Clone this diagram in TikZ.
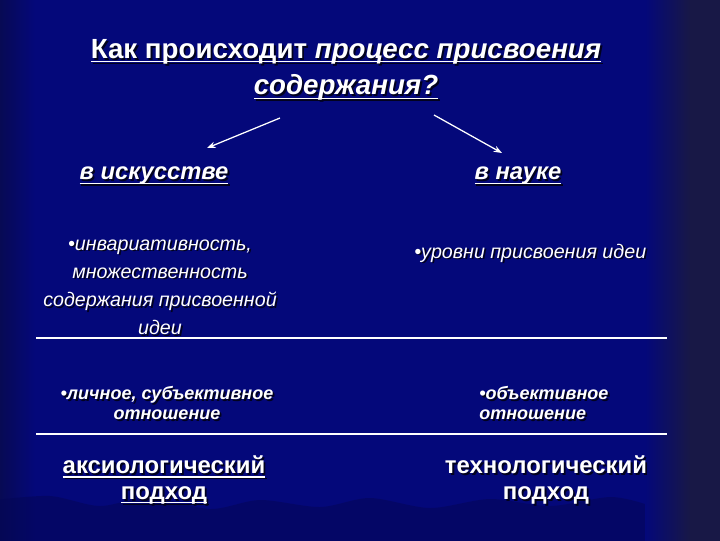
\documentclass[tikz,border=0pt]{standalone}
\usepackage{fontspec}
\setmainfont{Liberation Sans}
\usetikzlibrary{arrows.meta}

\definecolor{curtbase}{RGB}{4,8,122}
\definecolor{curtlight}{RGB}{14,34,200}
\definecolor{curtmid}{RGB}{8,20,162}
\definecolor{curtedge}{RGB}{8,10,80}
\definecolor{sidepanel}{RGB}{24,24,70}
\definecolor{hemcol}{RGB}{4,6,86}
\definecolor{shadowcol}{RGB}{2,2,30}

\newcommand\titlefont{\fontsize{19.7}{26}\selectfont\bfseries}
\newcommand\headfont{\fontsize{16.9}{20}\selectfont\bfseries\itshape}
\newcommand\infofont{\fontsize{14}{20}\selectfont\itshape}
\newcommand\relfont{\fontsize{12.8}{14.2}\selectfont\bfseries\itshape}
\newcommand\appfont{\fontsize{17}{18.4}\selectfont\bfseries}

% underline at a fixed depth
\newsavebox\ulbox
\newcommand\uln[1]{\sbox\ulbox{#1}\rlap{\rule[-2.8pt]{\wd\ulbox}{0.9pt}}\usebox\ulbox}

% node with a dark shadow under the text
\newcommand\shnode[4]{%
  \node[#3, shadowtext, xshift=1.3pt, yshift=-1.3pt] (#1-sh) at #2 {#4};
  \node[#3] (#1) at #2 {#4};}

\begin{document}
\begin{tikzpicture}[x=0.025cm, y=-0.025cm,
    txt/.style={text=white, inner sep=0pt, align=center},
    shadowtext/.style={text=shadowcol},
    arr/.style={draw=white, line width=0.9pt, -{Stealth[length=6pt,width=4.5pt]}},
    rule/.style={draw=white, line width=0.9pt}]
  \useasboundingbox (0,0) rectangle (720,540);
  % curtain
  \fill[curtbase] (-4,-4) rectangle (724,544);
  \shade[left color=curtedge, right color=curtbase] (-4,-4) rectangle (35,544);
  \foreach \xa/\xb/\c in {35/95/curtmid, 95/160/curtlight, 160/235/curtlight,
      235/290/curtmid, 290/345/curtlight, 345/410/curtmid, 410/480/curtlight,
      480/545/curtmid, 545/605/curtlight, 605/645/curtmid} {
    \shade[left color=curtbase, middle color=\c, right color=curtbase]
      (\xa,-4) rectangle (\xb,544);
  }
  \fill[hemcol, opacity=.55] (-4,544) -- plot[smooth] coordinates {(-4,500) (50,496)
      (100,506) (150,497) (210,509) (260,500) (320,507) (370,498) (430,508)
      (490,499) (550,506) (610,497) (645,504)} -- (645,544) -- cycle;
  \shade[left color=curtbase, right color=sidepanel] (645,-4) rectangle (690.5,544);
  \fill[sidepanel] (690,-4) rectangle (724,544);

  % texts
  \shnode{title}{(346,70)}{txt, font=\titlefont}{\uln{Как происходит \textit{процесс присвоения}}\\
    \uln{\textit{содержания?}}}
  \shnode{art}{(154,176)}{txt, font=\headfont}{\uln{в искусстве}}
  \shnode{sci}{(518,176)}{txt, font=\headfont}{\uln{в науке}}
  \shnode{artinfo}{(160,287)}{txt, font=\infofont}{•инвариативность,\\ множественность\\
    содержания присвоенной\\ идеи}
  \shnode{sciinfo}{(414,253)}{txt, anchor=west, font=\infofont}{•уровни присвоения идеи}
  \shnode{subj}{(167,403)}{txt, font=\relfont}{•личное, субъективное\\ отношение}
  \shnode{obj}{(479,403)}{txt, anchor=west, align=left, font=\relfont}{•объективное\\ отношение}
  \shnode{axio}{(164,480)}{txt, font=\appfont}{\uln{аксиологический}\\ \uln{подход}}
  \shnode{techno}{(546,480)}{txt, font=\appfont}{технологический\\ подход}

  % arrows
  \coordinate (artfrom) at (280,118);
  \coordinate (artto) at (207,148);
  \coordinate (scifrom) at (434,115);
  \coordinate (scito) at (502,153);
  \draw[arr] (artfrom) -- (artto);
  \draw[arr] (scifrom) -- (scito);

  % separating lines
  \coordinate (rulea) at (36,338);
  \coordinate (ruleb) at (36,434);
  \draw[rule] (rulea) -- ++(631,0);
  \draw[rule] (ruleb) -- ++(631,0);
\end{tikzpicture}
\end{document}
